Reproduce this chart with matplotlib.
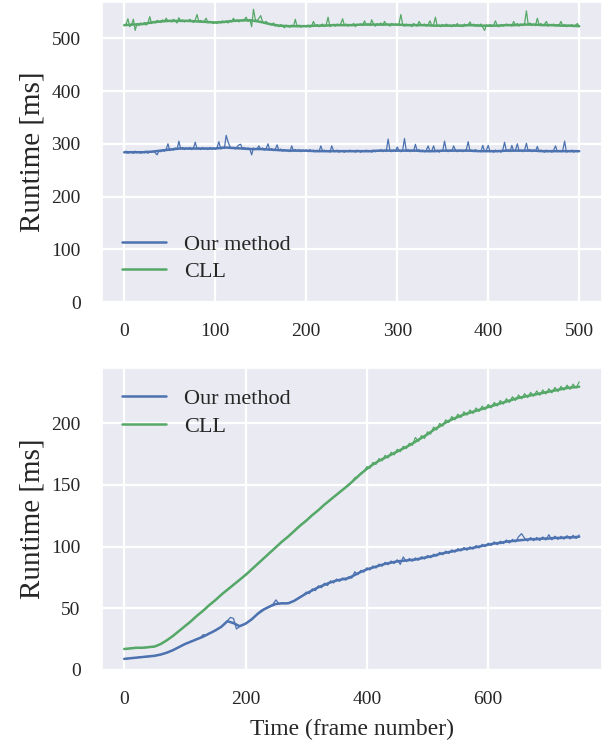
import numpy as np
import matplotlib
matplotlib.use('Agg')
import matplotlib.pyplot as plt
import seaborn as sns

sns.set_theme(style='darkgrid')
plt.rcParams['font.family'] = ['Liberation Serif', 'DejaVu Serif']

# colores (paleta deep)
c_ours = '#4C72B0'
c_cll = '#55A868'

# ---- panel superior: escena estática, 500 frames ----
# curva suavizada cada 10 frames
top_smooth_x = list(range(0, 501, 10))
top_ours_smooth = [284, 284, 284, 285, 287, 289, 291, 291, 291, 291,
                   291, 293, 292, 291, 290, 290, 289, 288, 287, 287,
                   287, 286, 286, 286, 286, 286, 286, 286, 287, 287,
                   287, 287, 287, 286, 286, 287, 287, 287, 287, 286,
                   286, 286, 287, 287, 287, 287, 286, 286, 286, 286, 286]
top_cll_smooth = [525, 526, 527, 530, 532, 533, 533, 533, 532, 531,
                  530, 531, 533, 534, 534, 531, 527, 524, 523, 523,
                  523, 524, 524, 525, 525, 525, 526, 526, 526, 526,
                  526, 525, 525, 525, 524, 524, 524, 524, 525, 524,
                  524, 524, 525, 525, 526, 526, 525, 525, 524, 524, 523]

# valores medidos cada 2 frames
top_raw_x = list(range(0, 501, 2))
top_ours_raw = [283, 286, 282, 285, 284, 282, 286, 283, 285, 282,
                285, 283, 286, 282, 285, 284, 286, 283, 279, 286,
                285, 288, 286, 289, 300, 287, 290, 288, 292, 289,
                305, 290, 293, 289, 292, 290, 293, 289, 292, 303,
                290, 292, 289, 293, 290, 292, 289, 293, 290, 292,
                290, 293, 304, 290, 292, 291, 316, 304, 295, 291,
                293, 290, 294, 298, 299, 290, 293, 289, 292, 290,
                279, 292, 289, 291, 296, 289, 292, 288, 291, 300,
                288, 291, 287, 290, 298, 287, 290, 286, 289, 287,
                288, 285, 296, 287, 289, 286, 289, 285, 288, 286,
                288, 285, 289, 286, 288, 285, 288, 285, 296, 286,
                288, 285, 287, 284, 296, 287, 285, 288, 284, 287,
                286, 284, 287, 285, 288, 285, 287, 284, 288, 286,
                284, 287, 285, 288, 285, 287, 284, 288, 285, 287,
                286, 289, 285, 288, 286, 309, 287, 285, 288, 286,
                294, 287, 285, 288, 310, 286, 289, 285, 288, 286,
                299, 286, 289, 285, 288, 285, 288, 296, 285, 287,
                296, 285, 288, 284, 287, 286, 305, 287, 285, 288,
                286, 296, 288, 285, 287, 288, 285, 287, 289, 304,
                286, 288, 285, 289, 286, 287, 285, 297, 286, 288,
                297, 285, 287, 284, 288, 285, 287, 284, 288, 303,
                286, 289, 285, 297, 286, 288, 300, 286, 288, 285,
                288, 301, 286, 289, 285, 288, 286, 295, 285, 288,
                286, 284, 288, 285, 287, 284, 288, 296, 285, 287,
                285, 288, 305, 284, 287, 285, 288, 284, 287, 285,
                286]
top_cll_raw = [524, 527, 537, 522, 526, 536, 515, 528, 524, 529,
               526, 530, 525, 529, 541, 528, 532, 529, 534, 531,
               530, 535, 532, 538, 533, 534, 531, 536, 533, 529,
               539, 533, 535, 531, 534, 532, 536, 533, 530, 535,
               545, 531, 534, 530, 533, 538, 529, 532, 530, 528,
               531, 528, 532, 529, 533, 530, 533, 529, 534, 531,
               538, 532, 535, 531, 534, 533, 536, 540, 532, 536,
               522, 555, 536, 533, 538, 543, 531, 529, 532, 527,
               528, 525, 529, 523, 526, 522, 526, 523, 520, 525,
               523, 521, 525, 523, 536, 522, 525, 521, 524, 523,
               522, 525, 521, 524, 532, 523, 526, 522, 525, 527,
               523, 526, 540, 522, 525, 526, 523, 527, 524, 528,
               537, 524, 527, 523, 526, 524, 528, 522, 526, 525,
               527, 524, 533, 525, 528, 524, 535, 527, 523, 528,
               525, 529, 524, 532, 527, 526, 523, 528, 525, 527,
               524, 528, 545, 526, 523, 527, 524, 526, 522, 528,
               525, 523, 532, 526, 524, 527, 523, 526, 533, 524,
               526, 540, 523, 525, 522, 526, 523, 527, 524, 525,
               522, 526, 524, 528, 523, 525, 522, 527, 524, 526,
               531, 524, 527, 523, 526, 524, 527, 521, 515, 525,
               523, 526, 522, 525, 533, 524, 522, 526, 523, 525,
               527, 524, 526, 523, 532, 525, 528, 523, 527, 524,
               528, 552, 526, 529, 524, 527, 524, 538, 525, 528,
               524, 527, 532, 523, 526, 524, 527, 523, 526, 525,
               532, 523, 526, 522, 525, 523, 526, 522, 525, 528,
               522]

# ---- panel inferior: escena creciente, 750 frames ----
bot_smooth_x = list(range(0, 751, 10))
bot_ours_smooth = [9, 9.5, 10, 10.5, 11, 11.5, 12.5, 14, 16, 18.5,
                   21, 23, 25, 27, 29.5, 32, 35, 39.5, 38, 35.5,
                   37.5, 41, 45.5, 49, 51.5, 53.5, 54, 54, 56, 59,
                   62, 64.5, 67, 69, 71, 72.5, 73.5, 74.5, 77, 79.5,
                   81.5, 83, 84.5, 86, 87, 88, 88.5, 89, 89.5, 90.5,
                   91.5, 92.5, 94, 95, 96, 97, 98, 98.5, 99.5, 100.5,
                   101.5, 102.5, 103, 104, 104.5, 105, 105.5, 106, 106, 106.5,
                   106.5, 107, 107, 107.5, 107.5, 108]
bot_cll_smooth = [17, 17.5, 18, 18, 18.5, 19, 21, 24, 27.5, 31.5,
                  35.5, 39.5, 44, 48, 52.5, 56.5, 61, 65, 69, 73,
                  77, 81.5, 86, 90.5, 95, 99.5, 104, 108, 112.5, 117,
                  121, 125.5, 129.5, 134, 138, 142, 146, 150, 154.5, 159,
                  163, 166.5, 169.5, 172, 174.5, 177, 179.5, 182, 185, 188,
                  191, 194.5, 197.5, 200.5, 203, 205, 207, 208.5, 210, 211.5,
                  213, 214.5, 216, 217.5, 219, 220.5, 221.5, 222.5, 223.5, 224.5,
                  225.5, 226.5, 227.5, 228.5, 229, 229.5]

bot_raw_x = list(range(0, 751, 5))
bot_ours_raw = [8.8, 9.3, 9.4, 9.9, 9.8, 10.4, 10.3, 10.9, 10.8, 11.4,
                11.3, 12.1, 12.4, 13.4, 13.9, 15.2, 15.9, 17.4, 18.3, 19.9,
                21.2, 21.8, 23.3, 23.8, 25.4, 25.8, 28.6, 28.1, 29.9, 30.6,
                32.3, 33.4, 35.2, 37.1, 39.8, 42.6, 41.8, 33.2, 35.1, 36.2,
                37.8, 39.2, 41.3, 43.2, 45.8, 48.1, 49.3, 50.4, 51.8, 53.2,
                56.8, 53.6, 54.2, 53.8, 54.3, 54.9, 56.2, 57.8, 59.3, 60.6,
                63.1, 61.9, 65.7, 64.3, 68.2, 66.6, 70.3, 68.4, 72.2, 70.5,
                73.7, 71.8, 74.6, 72.7, 75.6, 74.4, 79.6, 77.2, 80.7, 79.3,
                82.8, 81.1, 84.3, 82.6, 85.8, 84.1, 87.2, 85.3, 88.3, 86.2,
                89.3, 85.6, 91.6, 87.8, 90.3, 88.1, 90.8, 88.9, 91.8, 89.9,
                92.8, 90.9, 93.8, 92.2, 95.3, 93.4, 96.3, 94.4, 97.3, 95.4,
                98.3, 96.4, 99.3, 97.0, 99.8, 97.9, 100.8, 98.9, 101.8, 99.9,
                102.8, 100.9, 103.8, 101.6, 104.3, 102.4, 105.3, 102.9, 105.8, 103.7,
                107.9, 110.5, 106.8, 104.5, 107.3, 104.8, 107.4, 104.9, 107.8, 105.3,
                109.6, 105.5, 108.4, 105.8, 108.3, 106.0, 108.8, 106.2, 109.1, 106.5,
                109.4]
bot_cll_raw = [17.2, 17.0, 17.6, 17.8, 18.1, 17.9, 18.2, 18.0, 18.4, 18.7,
               19.1, 19.8, 21.2, 22.4, 24.1, 25.6, 27.6, 29.4, 31.6, 33.4,
               35.6, 37.4, 39.6, 41.9, 44.1, 45.8, 48.2, 50.1, 52.6, 54.4,
               56.7, 58.6, 61.2, 62.9, 65.1, 67.0, 69.2, 70.9, 73.1, 74.9,
               77.6, 79.1, 81.6, 83.7, 86.2, 88.1, 90.7, 92.6, 95.3, 97.1,
               99.6, 101.6, 104.3, 106.0, 108.2, 110.6, 112.4, 115.3, 117.2, 118.9,
               121.3, 123.2, 125.7, 127.4, 129.8, 131.6, 134.3, 135.8, 138.2, 140.3,
               142.1, 144.4, 146.2, 147.9, 150.3, 152.1, 155.8, 156.6, 159.4, 160.8,
               164.8, 163.4, 168.2, 166.6, 171.3, 169.4, 173.9, 171.8, 176.4, 174.3,
               178.8, 176.9, 181.2, 179.4, 183.7, 182.1, 188.4, 185.2, 189.9, 187.6,
               193.0, 191.2, 196.8, 194.5, 199.8, 197.6, 202.7, 200.5, 205.4, 202.8,
               207.3, 204.6, 209.2, 206.5, 210.7, 207.9, 212.3, 209.5, 213.8, 210.9,
               215.2, 212.4, 216.8, 213.9, 218.3, 215.4, 219.8, 216.8, 221.4, 218.4,
               222.8, 219.7, 223.9, 220.8, 224.9, 221.8, 226.1, 222.6, 226.9, 223.7,
               227.9, 224.6, 228.9, 225.6, 229.8, 226.8, 230.8, 227.4, 231.6, 228.4,
               233.5]

fig = plt.figure(figsize=(6.08, 7.45), dpi=100)
ax1 = fig.add_axes([0.167, 0.5946, 0.823, 0.4027])
ax2 = fig.add_axes([0.167, 0.1007, 0.823, 0.4054])

# panel superior
ax1.plot(top_raw_x, top_ours_raw, color=c_ours, lw=0.9)
ax1.plot(top_raw_x, top_cll_raw, color=c_cll, lw=0.9)
ax1.plot(top_smooth_x, top_ours_smooth, color=c_ours, lw=1.8, label='Our method')
ax1.plot(top_smooth_x, top_cll_smooth, color=c_cll, lw=1.8, label='CLL')
ax1.set_ylim(bottom=0)
ax1.set_xticks([0, 100, 200, 300, 400, 500])
ax1.set_ylabel('Runtime [ms]', fontsize=21, labelpad=4)
ax1.legend(loc='lower left', frameon=False, fontsize=16, labelspacing=0.3)

# panel inferior
ax2.plot(bot_raw_x, bot_ours_raw, color=c_ours, lw=0.9)
ax2.plot(bot_raw_x, bot_cll_raw, color=c_cll, lw=0.9)
ax2.plot(bot_smooth_x, bot_ours_smooth, color=c_ours, lw=1.8, label='Our method')
ax2.plot(bot_smooth_x, bot_cll_smooth, color=c_cll, lw=1.8, label='CLL')
ax2.set_ylim(bottom=0)
ax2.set_xticks([0, 200, 400, 600])
ax2.set_ylabel('Runtime [ms]', fontsize=21, labelpad=4)
ax2.set_xlabel('Time (frame number)', fontsize=17, labelpad=8)
ax2.legend(loc='upper left', frameon=False, fontsize=16, labelspacing=0.35)

for ax in (ax1, ax2):
    ax.tick_params(axis='x', labelsize=14, pad=9, colors='#262626')
    ax.tick_params(axis='y', labelsize=14, pad=9, colors='#262626')
    ax.grid(color='white', lw=1.6)

fig.savefig('out.png', dpi=100)
